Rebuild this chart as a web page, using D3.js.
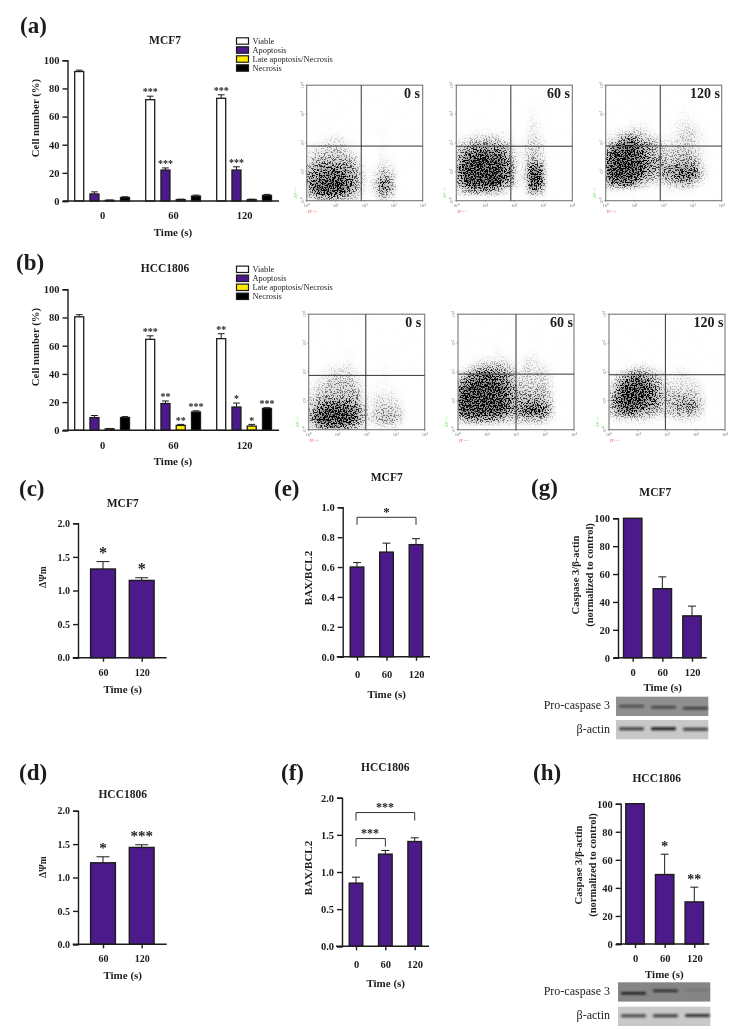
<!DOCTYPE html>
<html><head><meta charset="utf-8">
<script src="https://cdn.jsdelivr.net/npm/d3@7"></script>
<style>
html,body{margin:0;padding:0;background:#fff}
svg{display:block;opacity:.999}
text{font-family:"Liberation Serif",serif;fill:#1c1c1c}
</style></head><body><svg id="c" width="736" height="1029"></svg>
<script>
// ---------- data ----------
const times = ["0","60","120"];
const timesShort = ["60","120"];
const seriesNames = ["Viable","Apoptosis","Late apoptosis/Necrosis","Necrosis"];
const seriesFill = ["#ffffff","#4d1a8c","#ffec00","#000000"];
const purple = "#4d1a8c";

const aValues = [[92,72,73],[5,22,22],[0.5,1,1],[2.5,3.5,4]];
const aErrTop = [[93,74.5,75.5],[6.5,23.5,24.3],[0.7,1.3,1.3],[3,4.2,4.7]];
const aStars  = [["","***","***"],["","***","***"],["","",""],["","",""]];
const bValues = [[80.5,64.5,65],[9,19,16.5],[1,3.5,3],[9,13,15.5]];
const bErrTop = [[82,67,68.5],[10.5,20.8,19.3],[1.3,4.2,4.2],[9.7,13.8,16]];
const bStars  = [["","***","**"],["","**","*"],["","**","*"],["","***","***"]];

const cValues=[1.32,1.15], cErr=[1.43,1.19], cStars=["*","*"];
const dValues=[1.22,1.45], dErr=[1.31,1.49], dStars=["*","***"];
const eValues=[0.6,0.7,0.75], eErr=[0.63,0.76,0.79], eStars=["","",""];
const fValues=[0.85,1.24,1.41], fErr=[0.93,1.29,1.46], fStars=["","",""];
const gValues=[100,49.5,30], gErr=[100,58,37], gStars=["","",""];
const hValues=[100,49.5,30], hErr=[100,64,40.5], hStars=["","*","**"];

// event density in a 16x16 grid (rows top to bottom, 0-9), estimated by eye
const blank="0000000000000000";
const densA0=[blank,blank,blank,blank,blank,blank,"0000000000100000",
"0012210000000000","1233321000100000","2344432000100000","3555554100210000","5677765201320000",
"6788876302540000","7899986303750000","6899976203750000","3566543101420000"];
const densA60=[blank,blank,blank,"0000000000100000","0000000000100000","0000000000210000",
"0011111100210000","1233432101320000","3466665312330000","5788887412430000","6899998512540000",
"7999998612870000","7999998613980000","6899997512980000","3566653101750000",blank];
const densA120=[blank,blank,blank,"0000000000100000","0000000000110000","0001110001221000",
"1123321001232100","2367543212332100","5789765323332100","7999865434443100","8999976544554100",
"9999976566776200","8999865466886200","6787532234552100","1111000011110000",blank];
const densB0=[blank,blank,blank,blank,blank,"0000010000000000","0000010000000000",
"0012221000100000","0123332000100000","1234443101100000","2344444101110000","3455555212221000",
"4677776313332000","5899987414443000","6999997424553000","2677765201221000"];
const densB60=[blank,blank,blank,blank,"0000010000000000","0000011000100000",
"0012222102210000","1245554313221000","3678876423332000","6899987533332000","9999998644443000",
"9999998655553000","9999998667765000","9999997668885000","4666654344442000",blank];
const densB120=[blank,blank,blank,blank,blank,blank,"0000000000000000",
"0012321001100000","1357654212210000","2689875322221000","4799986433332000","5899986445543000",
"5899876445664000","4787654345553000","1222221112221000",blank];

const decades=[1,10,100,1000,10000];
// blot band darkness per lane (0-1), estimated by eye
const gBlotPro=[0.6,0.65,0.7], gBlotAct=[0.75,0.95,0.75];
const hBlotPro=[0.95,0.8,0.12], hBlotAct=[0.7,0.75,0.8];

// ---------- helpers ----------
const svg=d3.select("#c");
const defs=svg.append("defs");
const ink="#1c1c1c";
const txt=(x,y,s,size,opt={})=>{
  const t=svg.append("text").attr("x",x).attr("y",y).text(s).attr("font-size",size)
   .attr("font-weight",opt.weight||"bold").attr("text-anchor",opt.anchor||"middle");
  if(opt.rot) t.attr("transform",`rotate(-90 ${x} ${y})`);
  if(opt.fill) t.style("fill",opt.fill);
  return t;
};
function axes(g,p,x,y,xTicks){
  const ya=d3.axisLeft(y).tickValues(p.yTicks).tickFormat(p.yFmt).tickSizeOuter(0).tickSize(p.yTick||5).tickPadding(p.yPad||3);
  const yg=g.append("g").attr("transform",`translate(${p.ax},0)`).call(ya);
  const xa=d3.axisBottom(x).tickSize(p.xTick).tickPadding(p.xPad);
  const xg=g.append("g").attr("transform",`translate(0,${p.y0})`).call(xa);
  xg.select(".domain").remove();
  g.append("line").attr("x1",p.xl).attr("x2",p.xr).attr("y1",p.y0).attr("y2",p.y0)
    .attr("stroke",ink).attr("stroke-width",1.4);
  [yg,xg].forEach(a=>{
    a.selectAll("path,line").attr("stroke",ink).attr("stroke-width",1.4);
    a.selectAll("text").attr("font-size",p.fs||10.5).attr("font-weight","bold")
     .attr("font-family",'"Liberation Serif",serif').style("fill",ink);
  });
}
function simplePanel(p){
  const g=svg.append("g");
  const y=d3.scaleLinear().domain([0,p.yMax]).range([p.y0,p.yT]);
  const x=d3.scalePoint().domain(p.cats).range(p.xr2);
  p.values.forEach((v,i)=>{
    const cx=x(p.cats[i]);
    if(p.err[i]>v){
      g.append("line").attr("x1",cx).attr("x2",cx).attr("y1",y(v)).attr("y2",y(p.err[i])).attr("stroke",ink).attr("stroke-width",1);
      g.append("line").attr("x1",cx-p.cap).attr("x2",cx+p.cap).attr("y1",y(p.err[i])).attr("y2",y(p.err[i])).attr("stroke",ink).attr("stroke-width",1);
    }
    g.append("rect").attr("x",cx-p.bw/2).attr("width",p.bw).attr("y",y(v)).attr("height",y(0)-y(v))
      .attr("fill",purple).attr("stroke",ink).attr("stroke-width",1.4);
    if(p.stars[i]) txt(cx,y(p.err[i])-p.gap+p.sf*0.42,p.stars[i],p.sf);
  });
  axes(g,p,x,y);
  (p.brackets||[]).forEach(b=>{
    const x1=x(b[0]),x2=x(b[1]),yy=y(b[2]),dy=b[3];
    g.append("path").attr("d",`M${x1},${yy+dy}V${yy}H${x2}V${yy+dy}`).attr("fill","none").attr("stroke","#333").attr("stroke-width",1);
    txt(b[4]===undefined?(x1+x2)/2:b[4],yy-7+p.sf*0.42,b[5],p.sf);
  });
  return {x,y};
}
function groupedPanel(p){
  const g=svg.append("g");
  const y=d3.scaleLinear().domain([0,100]).range([p.y0,p.yT]);
  const x=d3.scalePoint().domain(times).range([102,244]);
  const sx=d3.scalePoint().domain(seriesNames).range([-22.8,23]);
  seriesNames.forEach((s,si)=>{
    times.forEach((t,ti)=>{
      const cx=x(t)+sx(s), v=p.values[si][ti], e=p.err[si][ti];
      g.append("line").attr("x1",cx).attr("x2",cx).attr("y1",y(v)).attr("y2",y(e)).attr("stroke",ink).attr("stroke-width",1);
      g.append("line").attr("x1",cx-3.4).attr("x2",cx+3.4).attr("y1",y(e)).attr("y2",y(e)).attr("stroke",ink).attr("stroke-width",1);
      g.append("rect").attr("x",cx-4.5).attr("width",9).attr("y",y(v)).attr("height",y(0)-y(v))
        .attr("fill",seriesFill[si]).attr("stroke",ink).attr("stroke-width",1.3);
      if(p.stars[si][ti]) txt(cx,y(e)-5+4.2,p.stars[si][ti],10);
    });
  });
  axes(g,p,x,y);
  const lg=d3.scalePoint().domain(seriesNames).range(p.leg);
  seriesNames.forEach((s,i)=>{
    g.append("rect").attr("x",236.5).attr("width",12).attr("y",lg(s)-3.2).attr("height",6.4)
      .attr("fill",seriesFill[i]).attr("stroke",ink).attr("stroke-width",1.2);
    txt(252.5,lg(s)+2.6,s,8.4,{anchor:"start",weight:"normal"});
  });
}
// noisy-threshold filter turning a soft density field into dot-like grain (visual texture only)
function grain(id,seed){
  const f=defs.append("filter").attr("id",id).attr("x","-5%").attr("y","-5%").attr("width","110%").attr("height","110%")
    .attr("color-interpolation-filters","sRGB");
  f.append("feGaussianBlur").attr("in","SourceAlpha").attr("stdDeviation",2.6).attr("result","soft");
  f.append("feTurbulence").attr("type","fractalNoise").attr("baseFrequency","0.67 0.73").attr("numOctaves",3).attr("seed",seed).attr("result","t");
  f.append("feColorMatrix").attr("in","t").attr("type","matrix")
    .attr("values","0 0 0 0 0  0 0 0 0 0  0 0 0 0 0  5 0 0 0 -2").attr("result","n");
  f.append("feComposite").attr("in","soft").attr("in2","n").attr("operator","arithmetic")
    .attr("k1",0).attr("k2",1.7).attr("k3",1.7).attr("k4",-1.7).attr("result","d");
  f.append("feColorMatrix").attr("in","soft").attr("type","matrix")
    .attr("values","0 0 0 0 0  0 0 0 0 0  0 0 0 0 0  0 0 0 0.45 0").attr("result","under");
  const m=f.append("feMerge").attr("result","all");
  m.append("feMergeNode").attr("in","under");
  m.append("feMergeNode").attr("in","d");
  f.append("feGaussianBlur").attr("in","all").attr("stdDeviation",0.4);
}
function flow(p,idx){
  const g=svg.append("g");
  const x=d3.scaleLog().domain([1,10000]).range([p.l,p.l+116]);
  const y=d3.scaleLog().domain([1,10000]).range([p.b,p.b-115.5]);
  const id="gr"+idx; grain(id,idx+3);
  const cols=d3.range(16), rows=d3.range(16);
  const bx=d3.scaleBand().domain(cols).range(x.range());
  const by=d3.scaleBand().domain(rows).range([y(10000),y(1)]);
  const clip="cl"+idx;
  defs.append("clipPath").attr("id",clip).append("rect").attr("x",p.l).attr("y",y(10000)).attr("width",116).attr("height",115.5);
  const cg=g.append("g").attr("clip-path",`url(#${clip})`).append("g").attr("filter",`url(#${id})`);
  cg.append("rect").attr("x",p.l-10).attr("y",y(10000)-10).attr("width",136).attr("height",135).attr("fill","#000").attr("fill-opacity",0.002);
  p.d.forEach((row,r)=>row.split("").forEach((c,k)=>{
    if(+c>0) cg.append("rect").attr("x",bx(k)).attr("y",by(r)).attr("width",bx.bandwidth()+0.3).attr("height",by.bandwidth()+0.3)
      .attr("fill","#000").attr("fill-opacity",Math.pow(+c/9,1.6)*0.92);
  }));
  g.append("rect").attr("x",p.l).attr("y",y(10000)).attr("width",116).attr("height",115.5).attr("fill","none").attr("stroke","#777").attr("stroke-width",1.1);
  g.append("line").attr("x1",x(p.vx)).attr("x2",x(p.vx)).attr("y1",y(10000)).attr("y2",y(1)).attr("stroke","#333").attr("stroke-width",1);
  g.append("line").attr("x1",x(1)).attr("x2",x(10000)).attr("y1",y(p.hy)).attr("y2",y(p.hy)).attr("stroke","#333").attr("stroke-width",1);
  const sup=["\u2070","\u00b9","\u00b2","\u00b3","\u2074"];
  decades.forEach((v,i)=>{
    g.append("line").attr("x1",x(v)).attr("x2",x(v)).attr("y1",p.b).attr("y2",p.b+1.5).attr("stroke","#777").attr("stroke-width",0.6);
    g.append("line").attr("x1",p.l-1.5).attr("x2",p.l).attr("y1",y(v)).attr("y2",y(v)).attr("stroke","#777").attr("stroke-width",0.6);
    txt(x(v),p.b+6,"10"+sup[i],4.5,{weight:"normal",fill:"#777"});
    txt(p.l-3,y(v),"10"+sup[i],4.5,{weight:"normal",rot:true,fill:"#777"});
  });
  txt(p.l+1,p.b+12.5,"IP ->",4.8,{anchor:"start",weight:"normal",fill:"#f06060"});
  txt(p.l-10,p.b-2,"AV ->",4.8,{anchor:"start",weight:"normal",rot:true,fill:"#3ee03e"});
  txt(p.l+116-p.lr,y(10000)+13,p.label,14,{anchor:"end"});
}
function blot(p,idx){
  const g=svg.append("g");
  const fid="bl"+idx;
  defs.append("filter").attr("id",fid).attr("x","-20%").attr("y","-100%").attr("width","140%").attr("height","300%")
    .append("feGaussianBlur").attr("stdDeviation",0.9);
  const x=d3.scalePoint().domain(times).range([p.l+15.5,p.l+79.5]);
  const rows=[{y:p.t1,bg:p.bg1,vals:p.pro,off:p.proOff,h:2.6},{y:p.t2,bg:"#c8c8c8",vals:p.act,off:p.actOff,h:3}];
  rows.forEach(r=>{
    g.append("rect").attr("x",p.l).attr("y",r.y).attr("width",92.3).attr("height",19.3).attr("fill",r.bg);
    const bg=g.append("g").attr("filter",`url(#${fid})`);
    times.forEach((t,i)=>{
      bg.append("rect").attr("x",x(t)-12.5).attr("width",25).attr("y",r.y+r.off[i]-r.h/2).attr("height",r.h).attr("rx",1.2)
        .attr("fill","#141414").attr("fill-opacity",r.vals[i]);
    });
  });
  txt(610,p.t1+12.5,"Pro-caspase 3",12,{anchor:"end",weight:"normal"});
  txt(610,p.t2+12.5,"\u03b2-actin",12,{anchor:"end",weight:"normal"});
}

// ---------- panel letters and titles ----------
[["(a)",20,33],["(b)",16,270],["(c)",19,496],["(e)",274,496],["(g)",531,495],["(d)",19,780],["(f)",281,780],["(h)",533,780]]
 .forEach(d=>txt(d[1],d[2],d[0],23,{anchor:"start"}));
[["MCF7",165,44],["HCC1806",165,272],["MCF7",122.7,507],["HCC1806",122.7,798],["MCF7",386.7,480.5],["HCC1806",385.3,770.5],["MCF7",655.3,495.5],["HCC1806",656.7,782]]
 .forEach(d=>txt(d[1],d[2],d[0],11.5));

// ---------- grouped bars ----------
const fmt0=d3.format("d"),fmt1=d3.format(".1f");
const tick100=[0,20,40,60,80,100];
groupedPanel({values:aValues,err:aErrTop,stars:aStars,y0:201,yT:60.3,ax:67.5,xl:63,xr:279,yTicks:tick100,yFmt:fmt0,xTick:0,xPad:11,leg:[41,68]});
groupedPanel({values:bValues,err:bErrTop,stars:bStars,y0:430.3,yT:289.3,ax:67.5,xl:63,xr:279,yTicks:tick100,yFmt:fmt0,xTick:0,xPad:11,leg:[269.3,296.3]});
txt(36,118,"Cell number (%)",10.8,{rot:true}).attr("dy",3);
txt(36,347,"Cell number (%)",10.8,{rot:true}).attr("dy",3);
txt(173,236,"Time (s)",11); txt(173,465,"Time (s)",11);

// ---------- single-series bars ----------
const t2=[0,0.5,1,1.5,2], t1=[0,0.2,0.4,0.6,0.8,1];
simplePanel({cats:timesShort,values:cValues,err:cErr,stars:cStars,yMax:2,y0:657.7,yT:523.3,ax:78,xl:72.7,xr:166.7,xr2:[103,141.7],bw:24.8,cap:6.5,yTicks:t2,yFmt:fmt1,xTick:4,xPad:7,gap:10,sf:16,fs:10});
simplePanel({cats:timesShort,values:dValues,err:dErr,stars:dStars,yMax:2,y0:944.3,yT:810.7,ax:78,xl:72.7,xr:166.7,xr2:[103,141.7],bw:24.8,cap:6.5,yTicks:t2,yFmt:fmt1,xTick:4,xPad:7,gap:10,sf:15,fs:10});
simplePanel({cats:times,values:eValues,err:eErr,stars:eStars,yMax:1,y0:656.7,yT:507.3,ax:342.7,xl:336.7,xr:430,xr2:[357,416],bw:13.6,cap:4,yTicks:t1,yFmt:fmt1,xTick:4,xPad:10,gap:8,sf:13,
  brackets:[["0","120",0.933,7.5,undefined,"*"]]});
simplePanel({cats:times,values:fValues,err:fErr,stars:fStars,yMax:2,y0:946.3,yT:797.7,ax:342,xl:336,xr:429,xr2:[356,414.7],bw:13.6,cap:4,yTicks:t2,yFmt:fmt1,xTick:4,xPad:10,gap:8,sf:12,
  brackets:[["0","60",1.45,8,370,"***"],["0","120",1.8,8,385,"***"]]});
simplePanel({cats:times,values:gValues,err:gErr,stars:gStars,yMax:100,y0:657.7,yT:518.3,ax:618,xl:614,xr:706.7,xr2:[632.7,692],bw:18.4,cap:4,yTicks:tick100,yFmt:fmt0,xTick:4,xPad:6.5,gap:8,sf:12});
simplePanel({cats:times,values:hValues,err:hErr,stars:hStars,yMax:100,y0:944,yT:803.7,ax:620.7,xl:616,xr:709.3,xr2:[635,694.3],bw:18.4,cap:4,yTicks:tick100,yFmt:fmt0,xTick:4,xPad:7,gap:9,sf:14});

txt(43,577,"\u0394\u03a8m",9.5,{rot:true}).attr("dy",3);
txt(43,867,"\u0394\u03a8m",9.5,{rot:true}).attr("dy",3);
txt(308,578,"BAX/BCL2",11,{rot:true}).attr("dy",3.5);
txt(308,868,"BAX/BCL2",11,{rot:true}).attr("dy",3.5);
[[122.7,693],[122.7,979],[386.7,698],[385.7,987],[662.7,691],[664.3,978]].forEach(d=>txt(d[0],d[1],"Time (s)",11));
[[575.7,575],[579,865]].forEach(d=>txt(d[0],d[1],"Caspase 3/\u03b2-actin",10.5,{rot:true}).attr("dy",3));
[[590,575],[593.3,865]].forEach(d=>txt(d[0],d[1],"(normalized to control)",10.5,{rot:true}).attr("dy",3));

// ---------- flow plots ----------
const lab=["0 s","60 s","120 s"];
[
 {l:306.7,b:200.7,d:densA0,vx:76,hy:78,label:lab[0],lr:2.7},
 {l:456.3,b:200.7,d:densA60,vx:76,hy:77,label:lab[1],lr:2.3},
 {l:605.7,b:200.7,d:densA120,vx:76,hy:78,label:lab[2],lr:1.7},
 {l:308.7,b:429.7,d:densB0,vx:93,hy:76,label:lab[0],lr:3.5},
 {l:458,b:429.7,d:densB60,vx:100,hy:84,label:lab[1],lr:1},
 {l:609,b:429.7,d:densB120,vx:88,hy:80,label:lab[2],lr:1.5}
].forEach(flow);

// ---------- blots ----------
blot({l:616,t1:696.7,t2:720,bg1:"#8f8f8f",pro:gBlotPro,act:gBlotAct,proOff:[9.5,10.5,11.5],actOff:[8.7,8.7,9.3]},1);
blot({l:618,t1:982.3,t2:1006.7,bg1:"#858585",pro:hBlotPro,act:hBlotAct,proOff:[11,8.5,8],actOff:[9,9,8.7]},2);
</script></body></html>
